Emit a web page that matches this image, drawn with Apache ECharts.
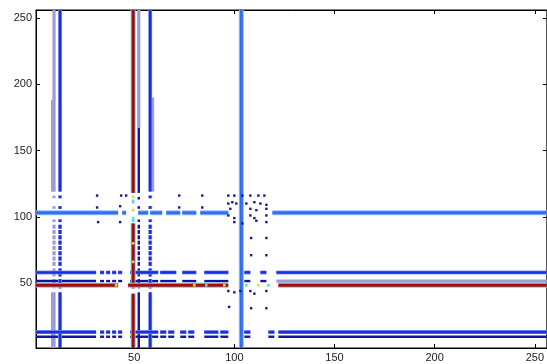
<!DOCTYPE html>
<html><head><meta charset="utf-8">
<script src="https://cdn.jsdelivr.net/npm/echarts@6/dist/echarts.min.js"></script>
<style>html,body{margin:0;padding:0;background:#fff}#c{width:547px;height:364px}</style>
</head><body><div id="c"></div>
<script>
// Axis ticks
const xTicks = [50, 100, 150, 200, 250];
const yTicks = [50, 100, 150, 200, 250];

// Vertical runs: [x, yFrom, yTo, level]
const vRuns = [
  [10, 119, 256, 1], [9.3, 119, 188, 1],
  [13, 119, 256, 3],
  [49.5, 118, 256, 7],
  [52.3, 167, 256, 1], [52.3, 118, 167, 2],
  [58, 119, 256, 3], [59.2, 119, 190, 1],
  [103.5, 1, 256, 4],
  // x = 10 (lower part)
  [10,114,116,1],[10,106,108,1],[10,96,98,1],[10,91,94,1],[10,87,90,1],[10,83,86,1],[10,79,82,1],
  [10,75,78,1],[10,71,74,1],[10,67,70,1],[10,63,66,1],[10,55,61,1],[10,46,53,1],[10,1,43,1],[9.3,1,43,1],
  // x = 13
  [13,114,116,3],[13,106,108,3],[13,96,98,3],[13,91,94,3],[13,87,90,3],[13,83,86,3],[13,79,82,3],
  [13,75,78,3],[13,71,74,3],[13,67,70,3],[13,63,66,3],[13,55,61,3],[13,46,53,3],[13,1,43,3],
  // x = 52
  [52.3,113,115,2],[52.3,106,108,2],[52.3,96,98,2],[52.3,91,94,2],[52.3,87,90,2],[52.3,83,86,2],
  [52.3,79,82,2],[52.3,75,78,2],[52.3,71,74,2],[52.3,67,70,2],[52.3,63,66,2],[52.3,55,61,2],
  [52.3,46,53,2],[52.3,1,43,2],
  // x = 58
  [58,114,116,3],[58,106,108,3],[58,96,98,3],[58,91,94,3],[58,87,90,3],[58,83,86,3],[58,79,82,3],
  [58,75,78,3],[58,71,74,3],[58,67,70,3],[58,63,66,3],[58,55,61,3],[58,46,53,3],[58,1,43,3],
  // x = 49.5
  [49.5,46,95,7],[49.5,1,42,7],[49.5,110,113,5],[49.5,96,100,5]
];

// Horizontal runs: [y, xFrom, xTo, level]
const hRuns = [
  // y = 103
  [103,1,42,4],[103,44,46,4],[103,52,57,4],[103,58,64,4],[103,66,73,4],[103,74,81,4],[103,83,97,4],[103,119,256,4],
  // y = 58
  [58,1,31,3],[58,33,35,3],[58,36,38,3],[58,39,41,3],[58,42,44,3],[58,48,62,3],[58,63,71,3],[58,74,81,3],
  [58,85,97,3],[58,105,108,3],[58,113,116,3],[58,121,256,3],
  // y = 51.5
  [51.5,1,31,2],[51.5,33,35,2],[51.5,36,38,2],[51.5,39,41,2],[51.5,42,44,2],[51.5,48,62,2],[51.5,63,71,2],
  [51.5,74,81,2],[51.5,85,97,2],[51.5,105,108,2],[51.5,113,116,2],[51.5,121,256,1],
  // y = 48.3
  [48.3,1,42,7],[48.3,47,97,7],[48.3,122,256,7],
  // y = 13
  [13,1,31,3],[13,33,35,3],[13,36,38,3],[13,39,41,3],[13,42,44,3],[13,48,62,3],[13,63,66,3],[13,67,70,3],
  [13,73,76,3],[13,77,80,3],[13,85,92,3],[13,93,97,3],[13,105,108,3],[13,117,120,3],[13,122,256,3],
  // y = 9.5
  [9.5,1,31,2],[9.5,33,35,2],[9.5,36,38,2],[9.5,39,41,2],[9.5,42,44,2],[9.5,48,62,2],[9.5,63,66,2],[9.5,67,70,2],
  [9.5,73,76,2],[9.5,77,80,2],[9.5,85,92,2],[9.5,93,97,2],[9.5,105,108,2],[9.5,117,120,2],[9.5,122,256,2]
];

// Isolated spots: [x, y, level]
const spots = [
  [31.5,116,2],[31.5,107,2],[32,96,2],
  [43.5,116,2],[46,116,2],[43,108,2],[43,96,2],
  [72.5,116,2],[84,116,2],[72.5,107,2],[84,107,2],
  [108.4,84,2],[116,84,2],[108.4,71,2],[116,71,2],
  [97.4,32,2],[108.4,31,2],[116,31,2],
  [97,116,2],[100,116,2],[104,116,2],[108,116,2],[112,116,2],[115,116,2],
  [97,110,2],[99,111,2],[101,110,2],[106,110,2],[110,111,2],[113,110,2],[116,109,2],
  [98,106,2],[108,106,2],[111,105,2],[116,106,2],
  [97,101,2],[100,99,2],[108,101,2],[110,99,2],[116,101,2],
  [100,96,2],[104,95,2],[111,97,2],[116,96,2],
  [97,44,2],[100,43,2],[103,44,2],[108,44,2],[110,42,2],[116,44,2],
  [49.5,115,6],[49.5,105,6],[49.5,80,6],[49.5,66,6],
  [41,48.3,6],[80,48.3,6],[86,48.3,5],[95,48.3,6],[106,48.3,5],[112,48.3,6],[117,48.3,5]
];

// level -> look (jet-like palette)
const looks = {
  1: {core: '#9c9cd6', w: 3.2},
  2: {core: '#14149c', w: 2.4},
  3: {core: '#1630e4', w: 2.6, halo: '#8a94ea', hw: 4},
  4: {core: '#2f70f0', w: 3, halo: '#9ab6f2', hw: 5},
  5: {core: '#5ad8ee', w: 2.6},
  6: {core: '#d4de3c', w: 2.6},
  7: {core: '#a80a0a', w: 3, halo: '#5cd8ee', hw: 5}
};

const items = [];
vRuns.forEach(r => items.push([0, r[0], r[1], r[2], r[3]]));
hRuns.forEach(r => items.push([1, r[0], r[1], r[2], r[3]]));
items.sort((a, b) => a[4] - b[4]);
spots.forEach(s => items.push([2, s[0], s[1], s[1], s[2]]));

function renderItem(params, api) {
  const orient = api.value(0), pos = api.value(1), a = api.value(2), b = api.value(3), lv = api.value(4);
  const lk = looks[lv];
  const cs = params.coordSys;
  const clipR = {x: cs.x, y: cs.y, width: cs.width, height: cs.height};
  function band(w) {
    if (orient === 0) {
      const p0 = api.coord([pos, a]), p1 = api.coord([pos, b]);
      return {x: p0[0] - w / 2, y: p1[1], width: w, height: p0[1] - p1[1]};
    } else if (orient === 1) {
      const p0 = api.coord([a, pos]), p1 = api.coord([b, pos]);
      return {x: p0[0], y: p0[1] - w / 2, width: p1[0] - p0[0], height: w};
    } else {
      const p = api.coord([pos, a]);
      return {x: p[0] - w / 2, y: p[1] - w / 2, width: w, height: w};
    }
  }
  const children = [];
  if (lk.halo && orient !== 2) {
    const r = echarts.graphic.clipRectByRect(band(lk.hw), clipR);
    if (r) children.push({type: 'rect', shape: r, style: {fill: lk.halo}});
  }
  const r2 = echarts.graphic.clipRectByRect(band(lk.w), clipR);
  if (r2) children.push({type: 'rect', shape: r2, style: {fill: lk.core}});
  return {type: 'group', children: children};
}

const chart = echarts.init(document.getElementById('c'), null, {renderer: 'canvas'});
const tickStyle = {show: true, inside: true, length: 4, lineStyle: {color: '#000', width: 1}};
const lblStyle = {color: '#222', fontSize: 11, fontFamily: 'Liberation Sans, Arial, sans-serif'};
chart.setOption({
  animation: false,
  backgroundColor: '#fff',
  grid: {left: 36, right: -2, top: 10, bottom: 16, show: true, borderColor: '#000', borderWidth: 1, backgroundColor: 'transparent'},
  xAxis: [
    {type: 'value', min: 1, max: 256, position: 'bottom',
     axisLine: {show: true, lineStyle: {color: '#000'}},
     axisTick: Object.assign({customValues: xTicks}, tickStyle),
     axisLabel: Object.assign({customValues: xTicks, margin: 4}, lblStyle),
     splitLine: {show: false}},
    {type: 'value', min: 1, max: 256, position: 'top',
     axisLine: {show: true, lineStyle: {color: '#000'}},
     axisTick: Object.assign({customValues: xTicks}, tickStyle),
     axisLabel: {show: false}, splitLine: {show: false}}
  ],
  yAxis: [
    {type: 'value', min: 1, max: 256, position: 'left',
     axisLine: {show: true, lineStyle: {color: '#000'}},
     axisTick: Object.assign({customValues: yTicks}, tickStyle),
     axisLabel: Object.assign({customValues: yTicks, margin: 4}, lblStyle),
     splitLine: {show: false}},
    {type: 'value', min: 1, max: 256, position: 'right',
     axisLine: {show: true, lineStyle: {color: '#000'}},
     axisTick: Object.assign({customValues: yTicks}, tickStyle),
     axisLabel: {show: false}, splitLine: {show: false}}
  ],
  series: [{
    type: 'custom',
    renderItem: renderItem,
    data: items,
    encode: {x: 1, y: 2},
    silent: true
  }]
});
</script></body></html>
